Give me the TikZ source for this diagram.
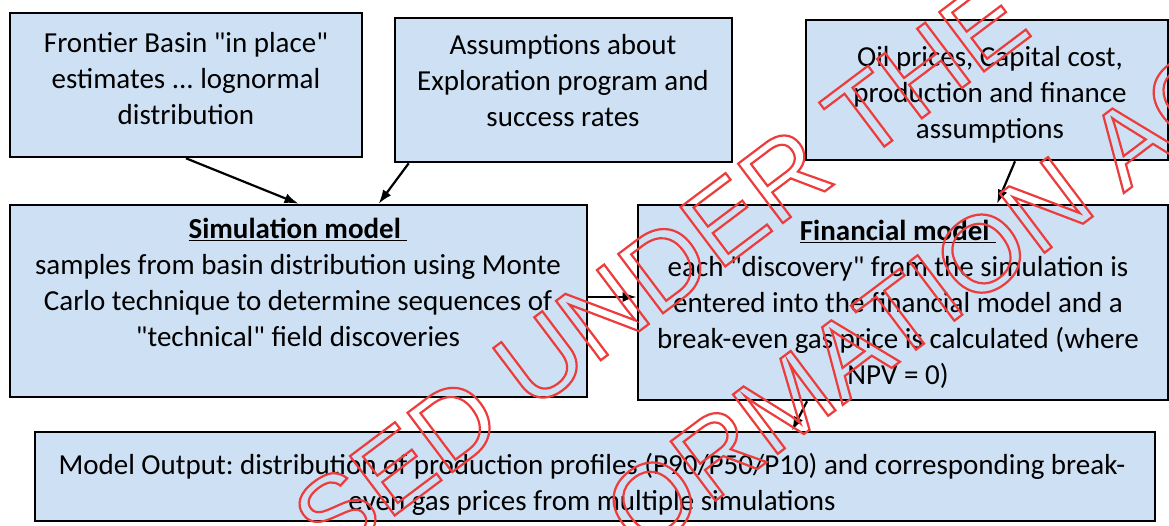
\documentclass[tikz,border=0pt]{standalone}
\usepackage{fontspec}
\setmainfont{Carlito}[Ligatures=TeXOff]
\newfontfamily\wmfont{Liberation Sans}
\usetikzlibrary{arrows.meta,calc}
\definecolor{boxfill}{RGB}{206,224,243}
\definecolor{wmred}{RGB}{236,60,60}
\newcommand{\outlinedtext}[1]{\special{pdf:literal direct 1 Tr 2.2 w}#1\special{pdf:literal direct 0 Tr}}
\frenchspacing
\begin{document}
\begin{tikzpicture}[x=1pt,y=-1pt,
  box/.style={draw=black, line width=2.6pt, fill=boxfill, inner sep=0pt},
  txt/.style={anchor=north, align=center, inner sep=0pt, font=\fontsize{29}{36}\selectfont},
  arr/.style={line width=2.2pt, -{Latex[length=14pt,width=10pt]}},
  wm/.style={text=wmred, font=\fontsize{108}{120}\wmfont, rotate=37, inner sep=0pt}]
\fill[white] (0,0) rectangle (1169,525);
\useasboundingbox (0,0) rectangle (1169,525);

\node[box, minimum width=352pt, minimum height=144pt] (A) at (186,85) {};
\node[box, minimum width=337pt, minimum height=144pt] (B) at (563.5,90) {};
\node[box, minimum width=362pt, minimum height=140pt] (C) at (987,90) {};
\node[box, minimum width=577pt, minimum height=192pt] (D) at (298.5,301) {};
\node[box, minimum width=530pt, minimum height=195pt] (E) at (903,302.5) {};
\node[box, minimum width=1120pt, minimum height=89pt] (F) at (595,476.5) {};

\node[txt] (At) at (186,26.8) {\strut Frontier Basin "in place"\\estimates ... lognormal\\distribution};
\node[txt] (Bt) at (563,28.8) {\strut Assumptions about\\Exploration program and\\success rates};
\node[txt] (Ct) at (990,40.8) {\strut Oil prices, Capital cost,\\production and finance\\assumptions};
\node[txt] (Dt) at (298,212.8) {\strut\underline{\textbf{Simulation model}\ }\\samples from basin distribution using Monte\\Carlo technique to determine sequences of\\"technical" field discoveries};
\node[txt] (Et) at (898,214.8) {\strut\underline{\textbf{Financial model}\ }\\each "discovery" from the simulation is\\entered into the financial model and a\\break-even gas price is calculated (where\\NPV = 0)};
\node[txt] (Ft) at (592,448.8) {\strut Model Output: distribution of production profiles (P90/P50/P10) and corresponding break-\\even gas prices from multiple simulations};

\draw[arr] (A.south) -- (D.north);
\draw[arr] ([xshift=15pt]B.south west) -- ([xshift=370pt]D.north west);
\draw[arr] ([xshift=28pt]C.south) -- ([xshift=94pt]E.north);
\draw[arr] ([yshift=4pt]D.east) -- ([yshift=4pt]D.east -| E.west);
\draw[arr] ([xshift=-96pt]E.south) -- ([xshift=197pt]F.north);

\node[wm] (wm1) at (660,269) {\outlinedtext{SED UNDER THE}};
\node[wm] (wm2) at (920,300) {\outlinedtext{ORMATION AC}};
\end{tikzpicture}
\end{document}
